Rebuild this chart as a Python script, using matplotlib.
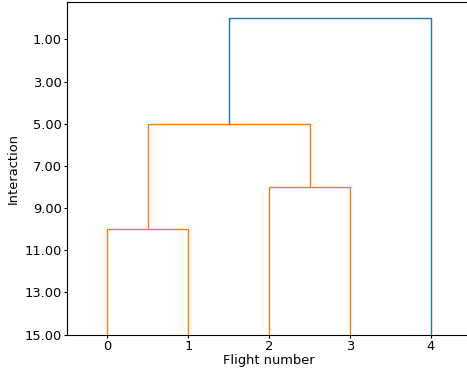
import matplotlib
matplotlib.use("Agg")
import matplotlib.pyplot as plt

plt.rcParams["font.size"] = 9.4
plt.rcParams["xtick.major.size"] = 2.2
plt.rcParams["ytick.major.size"] = 2.2
plt.rcParams["xtick.major.pad"] = 1.6
plt.rcParams["ytick.major.pad"] = 1.6

# leaf positions and merge heights
leaves = [0, 1, 2, 3, 4]
ytick_vals = [1, 3, 5, 7, 9, 11, 13, 15]

# each link: left x, right x, where each leg starts, merge height, colour
link_left_x = [0, 2, 0.5, 1.5]
link_right_x = [1, 3, 2.5, 4]
link_left_from = [15, 15, 10, 5]
link_right_from = [15, 15, 8, 15]
link_height = [10, 8, 5, 0]
link_color = ["C1", "C1", "C1", "C0"]

fig = plt.figure(figsize=(4.67, 3.73), dpi=100)
# axes run past the right edge, so no right spine shows
ax = fig.add_axes([0.1435, 0.103, 0.866, 0.8905])

for xl, xr, yl, yr, h, c in zip(link_left_x, link_right_x, link_left_from,
                                link_right_from, link_height, link_color):
    ax.plot([xl, xl, xr, xr], [yl, h, h, yr], color=c, linewidth=1)

ax.set_xlim(-0.5, 4.5)
ax.set_ylim(15, -0.75)
ax.spines["right"].set_visible(False)
ax.set_xticks(leaves)
ax.set_yticks(ytick_vals)
ax.set_yticklabels([f"{v:.2f}" for v in ytick_vals])
ax.set_xlabel("Flight number", labelpad=1)
ax.set_ylabel("Interaction", labelpad=3)

fig.savefig("out.png", dpi=100)
